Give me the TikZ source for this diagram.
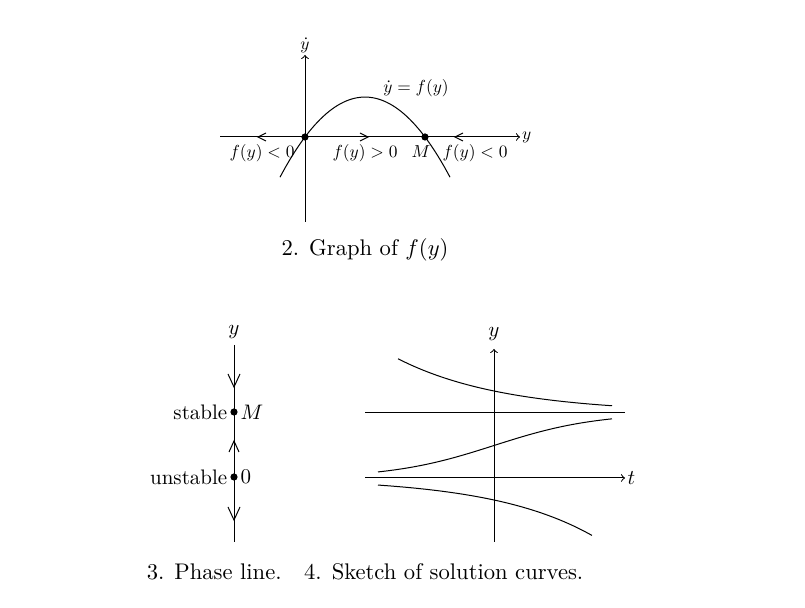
\documentclass[tikz,border=0pt]{standalone}
\begin{document}
\begin{tikzpicture}[x=0.5pt,y=-0.5pt,line width=0.5pt,
  chev/.style={line width=0.5pt},
  dot/.style={circle,fill,inner sep=0pt,minimum size=3.6pt},
  lbl/.style={scale=0.87,transform shape,inner sep=1pt},
  midtxt/.style={scale=1.05,transform shape,inner sep=1pt},
  captxt/.style={scale=1.13,transform shape}]
\path[use as bounding box] (0,0) rectangle (805,608);
% ---------- Graph of f(y)
\coordinate (yb) at (305,222);
\coordinate (yt) at (305,55);
\coordinate (xl) at (220,137);
\coordinate (xr) at (520,137);
\draw[->] (yb) -- (yt);
\draw[->] (xl) -- (xr);
\node[lbl,above] (ydot) at (yt) {$\dot y$};
\node[lbl,right] (ylab) at (xr) {$y$};
\draw[domain=280:450,samples=60,smooth] plot (\x,{137-0.0111*(\x-305)*(425-\x)});
\node[dot] (p0) at (305,137) {};
\node[dot] (pM) at (425,137) {};
\draw[chev] (266,133) -- (258,137) -- (266,141);
\draw[chev] (360,133) -- (368,137) -- (360,141);
\draw[chev] (463,133) -- (455,137) -- (463,141);
\node[lbl] (l1) at (262,153) {$f(y)<0$};
\node[lbl] (l2) at (365,153) {$f(y)>0$};
\node[lbl] (l3) at (421,152) {$M$};
\node[lbl] (l4) at (475,153) {$f(y)<0$};
\node[lbl] (feq) at (416,88) {$\dot y=f(y)$};
\node[captxt] (c2) at (365,250) {2. Graph of $f(y)$};
% ---------- Phase line
\coordinate (pt) at (234,345);
\coordinate (pb) at (234,542);
\draw (pt) -- (pb);
\node[midtxt] (py) at (234,332) {$y$};
\draw[chev] (228,374) -- (234,387) -- (240,374);
\draw[chev] (229,452) -- (234,441) -- (239,452);
\draw[chev] (228,507) -- (234,520) -- (240,507);
\node[dot] (sM) at (234,412) {};
\node[dot] (s0) at (234,477) {};
\node[midtxt,left] (st) at (sM.west) {stable};
\node[midtxt,right] (stM) at (sM.east) {$M$};
\node[midtxt,left] (un) at (s0.west) {unstable};
\node[midtxt,right] (un0) at (s0.east) {0};
% ---------- Solution curves
\coordinate (ab) at (494,542);
\coordinate (atop) at (494,349);
\coordinate (tl) at (365,478);
\coordinate (tr) at (625,478);
\draw[->] (ab) -- (atop);
\draw[->] (tl) -- (tr);
\node[midtxt] (sy) at (494,334) {$y$};
\node[midtxt,right] (tt) at (tr) {$t$};
\coordinate (ml) at (365,413);
\coordinate (mr) at (625,413);
\draw (ml) -- (mr);
\draw[domain=398:612,samples=60,smooth] plot (\x,{413-22*exp(-0.0094*(\x-494))});
\draw[domain=378:612,samples=60,smooth] plot (\x,{478-65/(1+exp(-0.0196*(\x-494)))});
\draw[domain=378:592,samples=60,smooth] plot (\x,{478+22*exp(0.0098*(\x-494))});
\node[captxt] (c34) at (365,572) {3. Phase line.\quad 4. Sketch of solution curves.};
\end{tikzpicture}
\end{document}
